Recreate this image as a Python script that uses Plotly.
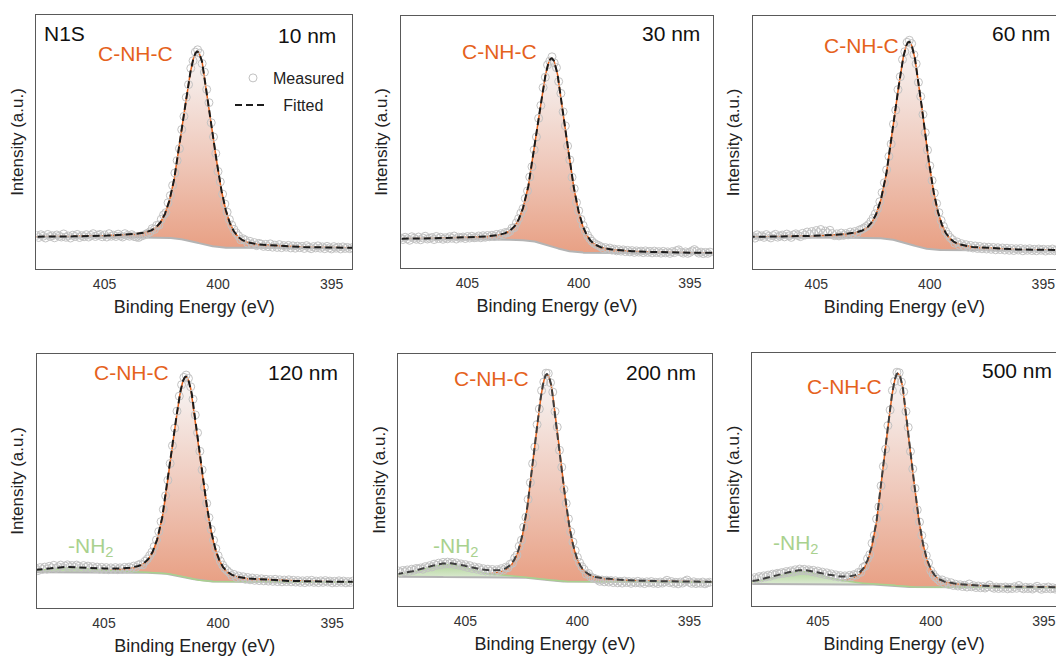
import numpy as np
import plotly.graph_objects as go

# ---- N 1s XPS spectra for six film thicknesses -----------------------------
thickness = ["10 nm", "30 nm", "60 nm", "120 nm", "200 nm", "500 nm"]

# binding-energy sampling of the measured spectra (eV, 0.1 eV step)
energy = np.round(np.arange(408.0, 394.05, -0.1), 1)

# measured intensity (a.u.), one value per energy step
meas_10 = [
    13.2, 12.4, 13.5, 12.9, 12.2, 13.6, 12.8, 13.1, 12.3, 13.4, 12.9, 12.6, 13.8, 12.5, 13.0, 12.2, 13.3, 12.8, 13.6, 12.4, 13.1, 12.7, 13.5, 12.6, 13.2, 13.9, 12.8, 13.3,
    13.6, 12.7, 13.4, 12.6, 13.9, 12.9, 13.3, 12.8, 13.7, 13.0, 12.6, 13.9, 13.2, 12.9, 13.5, 12.8, 12.6, 12.4, 12.9, 13.2, 13.6, 14.1, 14.6, 15.9, 15.6, 17.2, 17.3, 19.6,
    21.3, 22.2, 26.1, 28.9, 32.9, 37.8, 42.7, 47.4, 54.9, 60.1, 67.6, 72.6, 79.0, 82.0, 85.4, 86.3, 85.0, 80.9, 77.5, 70.7, 65.5, 57.6, 52.0, 45.5, 38.4, 34.3, 29.5, 25.6,
    22.4, 19.5, 17.3, 15.6, 14.2, 13.1, 11.5, 11.9, 11.4, 10.2, 10.9, 9.6, 10.4, 9.2, 10.1, 9.8, 8.9, 9.7, 8.8, 9.9, 8.6, 9.4, 8.5, 9.6, 8.4, 9.2, 8.6, 9.3,
    8.3, 9.1, 8.2, 9.0, 8.4, 8.9, 8.1, 9.2, 8.5, 8.0, 8.8, 8.3, 9.1, 8.2, 8.7, 8.0, 8.9, 8.3, 7.9, 8.8, 8.2, 8.6, 7.9, 8.7, 8.1, 8.5, 8.0, 8.4,
]
meas_30 = [
    11.9, 11.3, 12.2, 11.6, 11.0, 12.4, 11.8, 11.4, 12.3, 11.2, 11.9, 12.6, 11.5, 11.8, 12.1, 11.3, 12.5, 11.7, 12.2, 11.4, 12.0, 11.6, 12.4, 11.8, 12.7, 11.5, 12.2, 11.9,
    12.3, 11.7, 12.5, 11.9, 12.6, 12.0, 12.1, 12.7, 12.0, 12.8, 12.2, 12.9, 12.4, 13.0, 12.5, 13.3, 12.8, 13.6, 13.2, 14.1, 14.0, 14.5, 15.8, 16.0, 17.9, 19.6, 21.8, 23.6,
    27.6, 30.6, 36.1, 40.2, 46.9, 52.0, 59.4, 64.5, 71.6, 75.7, 80.6, 82.1, 83.8, 81.4, 79.5, 74.0, 69.3, 62.0, 56.4, 48.4, 42.9, 36.0, 31.5, 26.0, 22.7, 19.3, 16.9, 14.8,
    13.0, 11.7, 10.6, 9.8, 9.3, 8.9, 8.4, 7.7, 8.1, 7.4, 7.9, 7.1, 7.5, 6.8, 7.3, 6.7, 7.2, 6.5, 7.0, 6.4, 6.9, 6.2, 6.8, 6.3, 6.7, 6.1, 6.8, 6.2,
    6.6, 6.0, 6.7, 6.1, 6.5, 5.9, 6.6, 6.0, 6.4, 5.8, 6.5, 6.1, 6.9, 7.2, 6.3, 5.9, 6.4, 5.8, 6.2, 6.8, 7.3, 6.6, 5.9, 6.3, 5.7, 6.2, 5.8, 6.3,
]
meas_60 = [
    12.4, 13.3, 12.9, 12.2, 13.5, 12.8, 13.1, 12.5, 13.6, 12.9, 12.3, 13.2, 13.7, 12.6, 13.0, 13.4, 12.7, 13.8, 13.1, 12.5, 13.5, 13.9, 13.2, 12.8, 14.1, 13.4, 14.6, 13.7,
    14.8, 13.9, 15.2, 14.4, 15.6, 14.1, 15.0, 14.3, 15.3, 14.0, 13.2, 13.9, 13.1, 14.2, 13.3, 14.0, 13.5, 14.6, 13.9, 14.8, 14.2, 15.4, 15.7, 16.2, 16.8, 17.5, 18.7, 20.1,
    21.8, 23.8, 26.6, 30.2, 34.1, 39.2, 44.5, 49.4, 57.3, 62.8, 70.9, 76.0, 82.8, 85.9, 89.6, 90.4, 89.1, 84.7, 81.1, 73.8, 68.2, 61.1, 53.9, 47.0, 40.8, 35.0, 30.0, 25.9,
    22.3, 19.2, 16.9, 14.9, 13.6, 12.4, 11.6, 10.2, 10.7, 9.4, 10.0, 8.9, 9.6, 8.6, 9.3, 8.3, 9.1, 8.1, 8.9, 8.0, 8.7, 7.9, 8.6, 7.8, 8.5, 7.6, 8.4, 7.7,
    8.3, 7.5, 8.2, 7.4, 8.1, 7.3, 8.0, 7.5, 8.1, 7.2, 7.9, 7.4, 8.0, 7.3, 7.8, 7.2, 7.9, 7.4, 7.8, 7.1, 7.7, 7.3, 7.9, 7.2, 7.6, 7.0, 7.7, 7.3,
]
meas_120 = [
    15.6, 14.7, 15.9, 15.2, 16.1, 15.3, 16.4, 15.8, 16.8, 15.6, 16.2, 16.9, 15.8, 16.5, 17.0, 16.1, 16.7, 16.0, 16.9, 16.4, 15.8, 16.7, 16.0, 16.5, 15.7, 16.3, 15.5, 16.1,
    15.3, 16.0, 15.2, 15.9, 15.1, 15.8, 15.2, 15.9, 15.1, 15.8, 15.3, 16.0, 15.4, 16.1, 15.6, 16.5, 16.0, 16.9, 17.3, 17.0, 18.4, 19.3, 20.6, 22.0, 24.2, 26.8, 30.1, 34.0,
    38.8, 44.2, 50.3, 56.9, 63.9, 70.8, 77.5, 83.4, 87.9, 90.8, 91.7, 90.4, 87.1, 82.2, 76.0, 69.0, 61.7, 54.4, 47.5, 41.2, 35.6, 30.9, 26.7, 23.4, 20.6, 18.5, 16.9, 15.6,
    14.7, 13.9, 12.7, 13.2, 12.0, 12.6, 11.6, 12.3, 11.3, 12.0, 11.1, 11.8, 10.9, 11.6, 10.8, 11.5, 10.7, 11.3, 10.6, 11.2, 10.5, 11.3, 10.4, 11.1, 10.3, 11.0, 10.4, 11.1,
    10.3, 10.9, 10.2, 10.8, 10.1, 10.7, 10.0, 10.8, 10.2, 10.9, 10.1, 10.6, 10.0, 10.7, 10.1, 10.8, 10.2, 10.6, 9.9, 10.5, 10.0, 10.7, 10.1, 10.6, 9.9, 10.4, 10.0, 10.6,
]
meas_200 = [
    13.9, 13.2, 14.1, 13.6, 14.3, 13.8, 14.6, 14.2, 14.9, 14.7, 15.1, 14.6, 15.6, 15.2, 16.0, 15.5, 16.6, 16.1, 17.0, 16.4, 17.3, 16.7, 17.4, 16.8, 17.3, 16.5, 17.1, 16.2,
    16.7, 15.8, 16.4, 15.3, 16.0, 14.9, 15.5, 14.6, 15.2, 14.2, 14.8, 13.9, 14.6, 13.8, 14.5, 13.7, 14.4, 13.9, 14.8, 14.3, 15.4, 15.2, 16.6, 17.0, 19.1, 20.2, 23.7, 26.1,
    31.3, 35.2, 42.3, 49.0, 56.5, 63.1, 72.0, 78.2, 85.5, 88.9, 92.4, 92.3, 88.6, 84.9, 77.2, 71.0, 61.8, 55.1, 46.3, 40.7, 34.6, 29.5, 25.4, 22.0, 19.3, 17.2, 15.6, 14.5,
    12.6, 12.9, 11.5, 11.1, 10.8, 10.5, 9.8, 10.3, 9.6, 10.2, 9.5, 10.1, 9.3, 10.0, 9.2, 9.8, 9.1, 9.9, 9.3, 9.7, 9.0, 9.6, 9.2, 9.8, 9.1, 9.5, 8.9, 9.6,
    9.2, 9.7, 9.0, 9.4, 8.9, 9.5, 9.1, 9.6, 10.2, 9.3, 9.7, 9.0, 9.4, 8.8, 9.5, 9.1, 9.8, 10.3, 9.4, 9.0, 9.6, 8.9, 9.3, 9.0, 9.5, 8.8, 9.2, 9.4,
]
meas_500 = [
    10.9, 10.4, 11.2, 10.7, 11.6, 11.1, 11.9, 11.5, 12.2, 11.8, 12.6, 12.3, 12.9, 12.7, 13.2, 12.9, 13.6, 13.2, 13.9, 13.4, 14.3, 13.8, 14.6, 14.0, 14.5, 13.9, 14.3, 13.6,
    14.1, 13.3, 13.8, 12.9, 13.4, 12.5, 13.1, 12.2, 12.7, 11.8, 12.3, 11.5, 12.0, 11.3, 11.9, 11.4, 12.1, 11.6, 12.4, 12.2, 13.3, 13.3, 15.2, 15.8, 18.7, 20.3, 24.8, 28.0,
    34.4, 39.2, 47.5, 55.2, 62.0, 71.3, 77.5, 85.2, 88.8, 92.4, 92.2, 88.5, 84.7, 76.9, 70.6, 61.1, 54.2, 46.5, 38.0, 33.2, 27.9, 23.5, 19.9, 17.1, 14.0, 12.6, 11.4, 10.6,
    9.8, 10.3, 8.9, 9.6, 8.5, 9.2, 8.1, 8.6, 7.9, 8.4, 7.7, 8.2, 7.5, 8.7, 7.6, 8.0, 7.3, 7.9, 7.2, 7.7, 7.1, 7.6, 8.3, 7.4, 7.0, 7.5, 6.9, 7.4,
    7.0, 7.5, 6.8, 7.3, 6.9, 7.6, 7.0, 8.1, 7.2, 6.8, 7.4, 6.9, 7.3, 6.7, 7.2, 7.8, 7.0, 6.6, 7.3, 6.9, 7.5, 6.8, 7.2, 6.7, 7.1, 6.8, 7.3, 6.9,
]
measured = [meas_10, meas_30, meas_60, meas_120, meas_200, meas_500]

# peak-fit parameters: C-NH-C component (centre eV, FWHM eV, height a.u.)
cnhc_center = [400.9, 401.2, 400.9, 401.4, 401.35, 401.45]
cnhc_fwhm = [1.55, 1.55, 1.55, 1.5, 1.4, 1.4]
cnhc_height = [75.3, 74.6, 79.9, 79.0, 81.5, 84.0]
# -NH2 component (zero height where it is not resolved)
nh2_center = [406.4, 406.4, 406.4, 406.4, 405.8, 405.7]
nh2_fwhm = [2.6, 2.6, 2.6, 2.6, 2.6, 2.6]
nh2_height = [0.0, 0.0, 0.0, 1.8, 5.0, 5.0]
# Shirley background end levels (high-BE side, low-BE side)
bkg_high = [12.5, 11.4, 12.5, 14.1, 11.6, 8.7]
bkg_low = [8.1, 5.8, 7.2, 10.1, 9.4, 7.2]

# visible binding-energy window of every panel (reversed axis)
x_ranges = [[408.0, 394.1], [408.0, 393.95], [407.8, 394.44],
            [407.95, 394.1], [408.0, 394.0], [407.9, 394.46]]
xticks = [405, 400, 395]

# ---- page geometry (pixels) -------------------------------------------------
W, H = 1056, 658
frames = [  # left, right, top, bottom
    (36.4, 352.0, 15, 269), (400.7, 713.3, 16, 268), (752.7, 1056.0, 16, 269),
    (36.7, 352.7, 354, 608), (398.3, 711.7, 354, 606), (752.3, 1056.0, 353, 606),
]
FONT = "Liberation Sans, Arial, Helvetica, sans-serif"
ORANGE = "#E5621C"
GREEN = "#A9D18E"


def px(x, y):
    return x / W, 1 - y / H


def pseudo_voigt(e, c, w, eta):
    u = (2 * (e - c) / w) ** 2
    return (1 - eta) * np.exp(-np.log(2) * u) + eta / (1 + u)


efit = np.linspace(394.0, 408.0, 1401)

fig = go.Figure()
for i in range(6):
    xa = "x" if i == 0 else f"x{i+1}"
    ya = "y" if i == 0 else f"y{i+1}"
    main = cnhc_height[i] * pseudo_voigt(efit, cnhc_center[i], cnhc_fwhm[i], 0.25)
    nh2 = nh2_height[i] * pseudo_voigt(efit, nh2_center[i], nh2_fwhm[i], 0.4)
    total = main + nh2
    cum = np.concatenate([[0.0], np.cumsum((total[1:] + total[:-1]) / 2)])
    bkg = bkg_low[i] + (bkg_high[i] - bkg_low[i]) * cum / cum[-1]
    common = dict(xaxis=xa, yaxis=ya, showlegend=False, hoverinfo="skip")

    # C-NH-C component area and outline
    fig.add_trace(go.Scatter(x=efit, y=bkg, mode="lines", line=dict(width=0), **common))
    fig.add_trace(go.Scatter(x=efit, y=bkg + main, mode="lines", line=dict(width=0),
                             fill="tonexty",
                             fillgradient=dict(type="vertical",
                                               colorscale=[[0, "#E8A084"], [0.45, "#EFC8BA"],
                                                           [1, "#F7F6F6"]]),
                             **common))
    fig.add_trace(go.Scatter(x=efit, y=bkg + main, mode="lines",
                             line=dict(color=ORANGE, width=1.5), **common))
    # -NH2 component area
    has_nh2 = nh2_height[i] > 0
    if has_nh2:
        fig.add_trace(go.Scatter(x=efit, y=bkg, mode="lines", line=dict(width=0), **common))
        fig.add_trace(go.Scatter(x=efit, y=bkg + nh2, mode="lines", line=dict(width=0),
                                 fill="tonexty",
                                 fillgradient=dict(type="vertical",
                                                   colorscale=[[0, "#E8F1E2"], [1, "#B3D59C"]]),
                                 **common))
    # background, -NH2 outline
    fig.add_trace(go.Scatter(x=efit, y=bkg, mode="lines",
                             line=dict(color="#B4B4B4", width=2), **common))
    if has_nh2:
        fig.add_trace(go.Scatter(x=efit, y=bkg + nh2, mode="lines",
                                 line=dict(color=GREEN, width=1.5), **common))
    # measured points
    fig.add_trace(go.Scatter(
        x=energy, y=measured[i], mode="markers", name="Measured",
        marker=dict(symbol="circle-open", size=8, color="#C2C2C2", line=dict(width=1)),
        xaxis=xa, yaxis=ya, showlegend=(i == 0), legend="legend", hoverinfo="skip"))
    # fitted envelope
    fig.add_trace(go.Scatter(
        x=efit, y=bkg + total, mode="lines", name="&nbsp;&nbsp;&nbsp;Fitted",
        line=dict(color="#1C1C1C" if i < 4 else "#3E3E3E", width=2, dash="7px,4px"),
        xaxis=xa, yaxis=ya, showlegend=(i == 0), legend="legend2", hoverinfo="skip"))

# ---- axes ------------------------------------------------------------------
layout = {}
for i, (l, r, t, b) in enumerate(frames):
    xk = "xaxis" if i == 0 else f"xaxis{i+1}"
    yk = "yaxis" if i == 0 else f"yaxis{i+1}"
    ya = "y" if i == 0 else f"y{i+1}"
    xa = "x" if i == 0 else f"x{i+1}"
    clipped = r >= W
    layout[xk] = dict(
        domain=[l / W, r / W], anchor=ya, range=x_ranges[i],
        tickvals=xticks, ticks="", showgrid=False, zeroline=False,
        showline=True, mirror=True, linecolor="#595959", linewidth=1.4,
        ticklabelstandoff=2,
        tickfont=dict(family=FONT, size=14, color="#333333"),
        title=dict(text="Binding Energy (eV)", standoff=9,
                   font=dict(family=FONT, size=18, color="#222222")),
    )
    layout[yk] = dict(
        domain=[1 - b / H, 1 - t / H], anchor=xa, range=[0, 100],
        showticklabels=False, ticks="", showgrid=False, zeroline=False,
        showline=True, mirror=not clipped, linecolor="#595959", linewidth=1.4,
        title=dict(text="Intensity (a.u.)", standoff=7,
                   font=dict(family=FONT, size=17, color="#222222")),
    )

# ---- labels ----------------------------------------------------------------
ann = []


def label(text, x, y, size, color, xanchor="center"):
    ax, ay = px(x, y)
    ann.append(dict(text=text, x=ax, y=ay, xref="paper", yref="paper", showarrow=False,
                    xanchor=xanchor, yanchor="middle",
                    font=dict(family=FONT, size=size, color=color)))


size_label_pos = [(338, 35, "right"), (702, 33, "right"), (990, 33, "left"),
                  (340, 372, "right"), (698, 372, "right"), (980, 370, "left")]
for name, (x, y, anc) in zip(thickness, size_label_pos):
    label(name, x, y, 21, "#111111", anc)

cnhc_label_pos = [(135, 53), (499, 51), (861, 45), (131, 372), (491, 378), (844, 386)]
for x, y in cnhc_label_pos:
    label("C-NH-C", x, y, 21, ORANGE)

for x, y in [(91, 547), (456, 547), (796, 544)]:
    label("-NH<sub>2</sub>", x, y, 21, GREEN)

label("N1S", 42, 33, 21, "#111111", "left")

lx1, ly1 = px(233, 78)
lx2, ly2 = px(230, 105)
fig.update_layout(
    width=W, height=H, margin=dict(l=0, r=0, t=0, b=0),
    paper_bgcolor="white", plot_bgcolor="white",
    font=dict(family=FONT),
    annotations=ann,
    legend=dict(x=lx1, y=ly1, xanchor="left", yanchor="middle", bgcolor="rgba(0,0,0,0)",
                font=dict(family=FONT, size=16, color="#222222")),
    legend2=dict(x=lx2, y=ly2, xanchor="left", yanchor="middle", bgcolor="rgba(0,0,0,0)",
                 font=dict(family=FONT, size=16, color="#222222")),
    **layout,
)
fig.write_html("out.html")
